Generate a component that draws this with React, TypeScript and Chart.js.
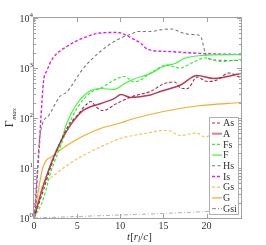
import React, { useEffect, useRef } from "react";
import { Chart, registerables } from "chart.js";

Chart.register(...registerables);

// ---- data (t in r_l/c, Gamma_max values) ----
const asT = [0, 1, 2, 3, 4, 5, 6.2, 6.6, 7.2, 8.0, 9.6, 11.4, 13.5, 15.0, 16.3, 17.0, 17.8, 18.9, 20.1, 21.2, 22.6, 24];
const asV = [1, 3.2, 11.2, 31.6, 71, 112, 195, 214, 166, 141, 195, 269, 339, 479, 525, 398, 389, 661, 537, 575, 794, 631];

const aT = [0, 1, 2, 3, 4, 4.85, 5.8, 7.75, 9.3, 10.1, 11.2, 13.5, 14.65, 17.0, 18.9, 20.85, 24];
const aV = [1, 4, 12.6, 31.6, 63, 100, 145, 195, 245, 295, 257, 288, 339, 457, 708, 617, 776];

const fsT = [0, 1, 2, 3, 4, 5, 6.5, 8, 8.9, 10.5, 11.6, 13.8, 15.4, 16.9, 18.3, 19.8, 21.6, 24];
const fsV = [1, 2.2, 8.9, 25, 71, 158, 316, 417, 525, 676, 525, 851, 1150, 1000, 1260, 1585, 1350, 1480];

const fT = [0, 1, 2.5, 3.0, 3.8, 5.0, 6.4, 7.75, 9.3, 10.5, 11.6, 13.5, 15.0, 16.5, 17.4, 19.4, 24];
const fV = [1, 4, 20, 28, 79, 195, 339, 389, 372, 490, 603, 776, 1072, 1260, 1550, 1780, 1860];

const hsT = [0, 0.3, 0.6, 1.0, 1.7, 3.0, 3.8, 5.7, 7.7, 9.6, 11.4, 12.0, 13.6, 14.5, 15.9, 17.4, 19.0, 19.3, 20.0, 20.9, 23.3, 24];
const hsV = [1, 5, 32, 78, 112, 269, 331, 977, 2140, 3630, 4900, 5370, 5370, 5750, 6030, 4900, 4570, 4370, 1700, 1445, 1413, 1413];

const isT = [0, 0.2, 0.4, 0.6, 0.8, 1.1, 1.5, 2.2, 3.8, 5.7, 7.7, 9.65, 11.2, 12.4, 13.2, 15.5, 19.4, 24];
const isV = [1, 2, 8, 25, 100, 537, 890, 1580, 2690, 3980, 5010, 5130, 4070, 3090, 2340, 2140, 1950, 1860];

const gsT = [0, 1.08, 1.86, 3.8, 5.7, 7.7, 10, 11.5, 13.45, 15, 15.8, 16.9, 18.9, 19.8, 21, 24];
const gsV = [1, 4.9, 6.2, 11.2, 17.8, 26.3, 38.9, 44.7, 51.3, 56.2, 55, 44.7, 50.1, 41.7, 50.1, 53.7];

const gT = [0, 1.0, 2.25, 3.8, 5.7, 7.7, 10, 11.2, 15, 18.9, 24];
const gV = [1, 9.8, 17.8, 28.2, 43.7, 61.7, 79.4, 93.3, 135, 174, 204];

const gsiT = [0, 5, 10, 15, 20, 24];
const gsiV = [1, 1.07, 1.15, 1.23, 1.35, 1.48];

const xTicks = [0, 5, 10, 15, 20];
const yDecades = [0, 1, 2, 3, 4];

const pts = (t: number[], v: number[]) => t.map((x, i) => ({ x, y: v[i] }));

const FONT = '"Liberation Serif", "DejaVu Serif", serif';

type Ser = { label: string; t: number[]; v: number[]; color: string; legendColor?: string; dash: number[]; width: number; legendWidth?: number };

const series: Ser[] = [
  { label: "As", t: asT, v: asV, color: "#a3284a", dash: [3, 2], width: 1.1 },
  { label: "A", t: aT, v: aV, color: "#b73a56", legendColor: "#d7808f", dash: [], width: 1.4, legendWidth: 2 },
  { label: "Fs", t: fsT, v: fsV, color: "#35ec35", dash: [3, 2], width: 1.2 },
  { label: "F", t: fT, v: fV, color: "#3ff53f", dash: [], width: 1.2 },
  { label: "Hs", t: hsT, v: hsV, color: "#787878", dash: [3, 2.5], width: 1.1 },
  { label: "Is", t: isT, v: isV, color: "#dd22dd", dash: [3, 2], width: 1.4 },
  { label: "Gs", t: gsT, v: gsV, color: "#f6c35a", dash: [3, 2], width: 1.2 },
  { label: "G", t: gT, v: gV, color: "#f0ad2a", dash: [], width: 1.2 },
  { label: "Gsi", t: gsiT, v: gsiV, color: "#9a9a9a", dash: [4, 2, 1, 2], width: 0.8 },
];

const decorPlugin = {
  id: "decor",
  afterDatasetsDraw(chart: any) {
    const { ctx, chartArea } = chart;
    const { left, right, top, bottom } = chartArea;
    const xs = chart.scales.x;
    const ys = chart.scales.y;
    ctx.save();
    // frame
    ctx.strokeStyle = "#a0a0a0";
    ctx.lineWidth = 1;
    ctx.setLineDash([]);
    ctx.strokeRect(left - 0.5, top - 0.5, right - left + 1, bottom - top + 1);
    // x ticks
    ctx.beginPath();
    for (const v of xTicks) {
      const px = Math.round(xs.getPixelForValue(v)) + 0.5;
      ctx.moveTo(px, bottom);
      ctx.lineTo(px, bottom - 4);
      ctx.moveTo(px, top);
      ctx.lineTo(px, top + 4);
    }
    // y ticks
    for (const d of yDecades) {
      for (let m = 1; m <= 9; m++) {
        if (d === 4 && m > 1) break;
        const val = m * Math.pow(10, d);
        const py = Math.round(ys.getPixelForValue(val)) + 0.5;
        const len = m === 1 ? 4 : 2;
        ctx.moveTo(left, py);
        ctx.lineTo(left + len, py);
        ctx.moveTo(right, py);
        ctx.lineTo(right - len, py);
      }
    }
    ctx.stroke();

    ctx.fillStyle = "#333";
    // x tick labels
    ctx.font = `10px ${FONT}`;
    ctx.textAlign = "center";
    ctx.textBaseline = "alphabetic";
    for (const v of xTicks) {
      ctx.fillText(String(v), xs.getPixelForValue(v), bottom + 11);
    }
    // y tick labels 10^d
    for (const d of yDecades) {
      const py = ys.getPixelForValue(Math.pow(10, d));
      ctx.font = `7px ${FONT}`;
      const ew = ctx.measureText(String(d)).width;
      ctx.textAlign = "right";
      ctx.fillText(String(d), left - 1, py - 1);
      ctx.font = `10px ${FONT}`;
      ctx.fillText("10", left - 1 - ew, py + 3.5);
    }
    // x title t[r_l/c]
    {
      const parts: [string, string, number][] = [
        ["t", "italic 11px", 0],
        ["[", "11px", 0],
        ["r", "italic 11px", 0],
        ["l", "italic 8px", 2],
        ["/", "11px", 0],
        ["c", "italic 11px", 0],
        ["]", "11px", 0],
      ];
      let total = 0;
      for (const [s, f] of parts) {
        ctx.font = `${f} ${FONT}`;
        total += ctx.measureText(s).width;
      }
      let x0 = (left + right) / 2 - total / 2 + 2;
      const by = 240;
      ctx.textAlign = "left";
      for (const [s, f, dy] of parts) {
        ctx.font = `${f} ${FONT}`;
        ctx.fillText(s, x0, by + dy);
        x0 += ctx.measureText(s).width;
      }
    }
    // y title Gamma_max
    {
      ctx.save();
      ctx.translate(13, (top + bottom) / 2);
      ctx.rotate(-Math.PI / 2);
      ctx.textAlign = "left";
      ctx.font = `12px ${FONT}`;
      const gw = ctx.measureText("Γ").width;
      ctx.font = `italic 7px ${FONT}`;
      const mw = ctx.measureText("max").width;
      const sx = -(gw + mw) / 2;
      ctx.font = `12px ${FONT}`;
      ctx.fillText("Γ", sx, 0);
      ctx.font = `italic 7px ${FONT}`;
      ctx.fillText("max", sx + gw + 0.5, 2.5);
      ctx.restore();
    }
    // legend
    {
      const bx = 209.5, by = 117.5, bw = 29, bh = 97;
      ctx.fillStyle = "#ffffff";
      ctx.fillRect(bx, by, bw, bh);
      ctx.strokeStyle = "#b0b0b0";
      ctx.lineWidth = 1;
      ctx.setLineDash([]);
      ctx.strokeRect(bx, by, bw, bh);
      series.forEach((s, i) => {
        const cy = 123 + i * 10.7;
        ctx.strokeStyle = s.legendColor || s.color;
        ctx.lineWidth = s.legendWidth || Math.max(s.width, 1.1);
        ctx.setLineDash(s.dash);
        ctx.beginPath();
        ctx.moveTo(212, cy);
        ctx.lineTo(222, cy);
        ctx.stroke();
        ctx.setLineDash([]);
        ctx.fillStyle = "#333";
        ctx.font = `10px ${FONT}`;
        ctx.textAlign = "left";
        ctx.textBaseline = "middle";
        ctx.fillText(s.label, 223, cy + 0.5);
      });
    }
    ctx.restore();
  },
};

export default function App() {
  const ref = useRef<HTMLCanvasElement | null>(null);
  useEffect(() => {
    document.body.style.margin = "0";
    if (!ref.current) return;
    const chart = new Chart(ref.current, {
      type: "line",
      data: {
        datasets: series.map((s) => ({
          label: s.label,
          data: pts(s.t, s.v),
          borderColor: s.color,
          borderWidth: s.width,
          borderDash: s.dash,
          pointRadius: 0,
          fill: false,
          cubicInterpolationMode: "monotone" as const,
        })),
      },
      options: {
        responsive: false,
        animation: false,
        layout: { padding: { left: 34, right: 25, top: 18, bottom: 27 } },
        plugins: { legend: { display: false }, tooltip: { enabled: false } },
        scales: {
          x: { type: "linear", min: 0, max: 24, display: false },
          y: { type: "logarithmic", min: 1, max: 10000, display: false },
        },
      },
      plugins: [decorPlugin],
    });
    return () => chart.destroy();
  }, []);
  return (
    <div style={{ width: 266, height: 245 }}>
      <canvas ref={ref} width={266} height={245} />
    </div>
  );
}
